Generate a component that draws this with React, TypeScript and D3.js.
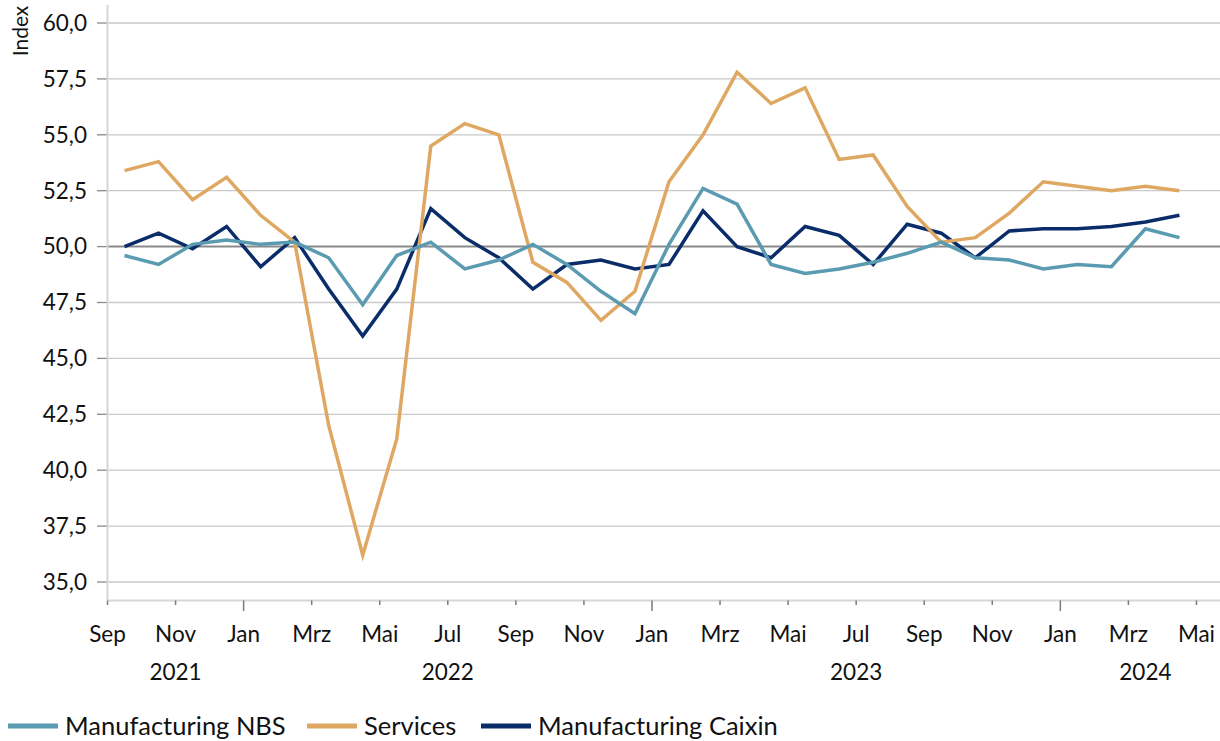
import * as d3 from 'd3';
import React from 'react';

// monthly PMI readings, Sep 2021 .. Apr 2024
const months = [
  'Sep 21', 'Okt 21', 'Nov 21', 'Dez 21',
  'Jan 22', 'Feb 22', 'Mrz 22', 'Apr 22', 'Mai 22', 'Jun 22', 'Jul 22', 'Aug 22', 'Sep 22', 'Okt 22', 'Nov 22', 'Dez 22',
  'Jan 23', 'Feb 23', 'Mrz 23', 'Apr 23', 'Mai 23', 'Jun 23', 'Jul 23', 'Aug 23', 'Sep 23', 'Okt 23', 'Nov 23', 'Dez 23',
  'Jan 24', 'Feb 24', 'Mrz 24', 'Apr 24',
];
const manufacturingNBS = [
  49.6, 49.2, 50.1, 50.3,
  50.1, 50.2, 49.5, 47.4, 49.6, 50.2, 49.0, 49.4, 50.1, 49.2, 48.0, 47.0,
  50.1, 52.6, 51.9, 49.2, 48.8, 49.0, 49.3, 49.7, 50.2, 49.5, 49.4, 49.0,
  49.2, 49.1, 50.8, 50.4,
];
const services = [
  53.4, 53.8, 52.1, 53.1,
  51.4, 50.2, 42.0, 36.2, 41.4, 54.5, 55.5, 55.0, 49.3, 48.4, 46.7, 48.0,
  52.9, 55.0, 57.8, 56.4, 57.1, 53.9, 54.1, 51.8, 50.2, 50.4, 51.5, 52.9,
  52.7, 52.5, 52.7, 52.5,
];
const manufacturingCaixin = [
  50.0, 50.6, 49.9, 50.9,
  49.1, 50.4, 48.1, 46.0, 48.1, 51.7, 50.4, 49.5, 48.1, 49.2, 49.4, 49.0,
  49.2, 51.6, 50.0, 49.5, 50.9, 50.5, 49.2, 51.0, 50.6, 49.5, 50.7, 50.8,
  50.8, 50.9, 51.1, 51.4,
];
// axis labels, one every two months starting Sep 2021
const tickLabels = ['Sep', 'Nov', 'Jan', 'Mrz', 'Mai', 'Jul', 'Sep', 'Nov', 'Jan', 'Mrz', 'Mai', 'Jul', 'Sep', 'Nov', 'Jan', 'Mrz', 'Mai'];
const years = ['2021', '2022', '2023', '2024'];
const yearStarts = [0, 4, 16, 28, 33]; // month index boundaries
const yTicks = [35, 37.5, 40, 42.5, 45, 47.5, 50, 52.5, 55, 57.5, 60];

const series = [
  { name: 'Manufacturing NBS', values: manufacturingNBS, color: '#5b9bb1' },
  { name: 'Services', values: services, color: '#dfa862' },
  { name: 'Manufacturing Caixin', values: manufacturingCaixin, color: '#0a2d6a' },
];

const W = 1220;
const H = 741;
const FONT = 'Lato, "Open Sans", sans-serif';

export default function App() {
  const left = 107.5;
  const monthW = 34.03;
  const x = d3.scaleLinear().domain([0, 33]).range([left, left + 33 * monthW]);
  const y = d3.scaleLinear().domain([35, 60]).range([582, 23]);
  const fmt = d3.formatLocale({ decimal: ',', thousands: '.', grouping: [3], currency: ['', '€'] }).format('.1f');

  const line = d3
    .line<number>()
    .x((_, i) => x(i + 0.5))
    .y((d) => y(d));

  const axisY = 600.5;
  const drawOrder = [2, 1, 0]; // Caixin underneath, NBS on top

  return (
    <svg width={W} height={H} style={{ position: 'absolute', left: 0, top: 0, background: '#fff' }} fontFamily={FONT}>
      {/* gridlines */}
      {yTicks.map((t) => (
        <g key={t}>
          <line x1={left} x2={W} y1={y(t)} y2={y(t)} stroke={t === 50 ? '#8a8a8a' : '#c9c9c9'} strokeWidth={t === 50 ? 2 : 1.3} />
          <line x1={97} x2={left} y1={y(t)} y2={y(t)} stroke="#8a8a8a" strokeWidth={1.3} />
          <text x={87} y={y(t)} dy="0.35em" textAnchor="end" fontSize={22.5} fill="#111">
            {fmt(t)}
          </text>
        </g>
      ))}
      <line x1={left} x2={left} y1={5} y2={axisY} stroke="#d6d6d6" strokeWidth={2} />
      <line x1={left} x2={W} y1={axisY} y2={axisY} stroke="#d6d6d6" strokeWidth={2} />
      <text transform="translate(28,31) rotate(-90)" textAnchor="middle" fontSize={21} fill="#111">
        Index
      </text>

      {/* x axis */}
      {tickLabels.map((lab, k) => {
        const m = k * 2;
        const isJan = lab === 'Jan';
        return (
          <g key={k}>
            <line x1={x(m)} x2={x(m)} y1={axisY} y2={isJan ? 611 : 605} stroke="#7a7a7a" strokeWidth={1.5} />
            <text x={x(m)} y={642} textAnchor="middle" fontSize={22.5} fill="#111">
              {lab}
            </text>
          </g>
        );
      })}
      {years.map((yr, k) => (
        <text key={yr} x={x((yearStarts[k] + yearStarts[k + 1]) / 2)} y={680} textAnchor="middle" fontSize={22.5} fill="#111">
          {yr}
        </text>
      ))}

      {/* series */}
      {drawOrder.map((k) => (
        <path
          key={series[k].name}
          d={line(series[k].values) || ''}
          fill="none"
          stroke={series[k].color}
          strokeWidth={3.5}
          strokeLinejoin="miter"
        />
      ))}

      {/* legend */}
      {series.map((s, k) => {
        const lx = [8, 307, 481][k];
        return (
          <g key={s.name}>
            <line x1={lx} x2={lx + 50} y1={726} y2={726} stroke={s.color} strokeWidth={5} />
            <text x={lx + 57} y={735} fontSize={25.5} fill="#111">
              {s.name}
            </text>
          </g>
        );
      })}
    </svg>
  );
}
